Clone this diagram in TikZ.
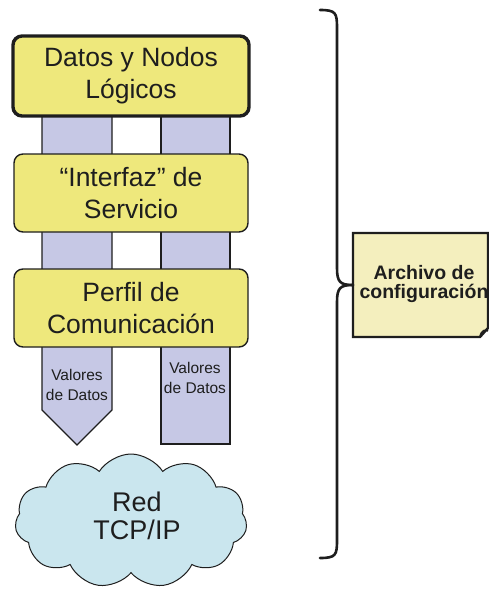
\documentclass[tikz,border=0pt]{standalone}
\usepackage{fontspec}
\setmainfont{Liberation Sans}
\usetikzlibrary{shapes.symbols}
\definecolor{boxyellow}{RGB}{238,232,124}
\definecolor{lavender}{RGB}{198,200,229}
\definecolor{skyblue}{RGB}{202,230,238}
\definecolor{notecream}{RGB}{244,239,190}
\definecolor{ink}{RGB}{30,30,30}
\tikzset{
  layerbox/.style={draw=ink, fill=boxyellow, rounded corners=9pt, line width=1.4pt,
    minimum width=234pt, minimum height=78pt, align=center, text=ink,
    font=\fontsize{26.5}{32}\selectfont, inner sep=0pt},
  column/.style={draw=ink, fill=lavender, line width=1.4pt},
  smalllabel/.style={align=center, text=ink, font=\fontsize{15.5}{20}\selectfont, inner sep=0pt},
  netcloud/.style={cloud, cloud puffs=11, cloud puff arc=115, aspect=1.7,
    draw=ink, fill=skyblue, line width=1pt, minimum width=232pt, minimum height=134pt},
  notebox/.style={draw=ink, fill=notecream, line width=2.4pt},
  bracepen/.style={draw=ink, line width=2.6pt, line cap=round, line join=round}
}
\begin{document}
\begin{tikzpicture}[x=1pt, y=-1pt]
\useasboundingbox (0,0) rectangle (488,592);

% data columns running behind the layer boxes
\draw[column] (42,100) -- (42,410) -- (77,445) -- (112,410) -- (112,100) -- cycle;
\draw[column] (161,100) rectangle (230,444);

% layer boxes
\node[layerbox, line width=3.4pt, minimum width=236pt, minimum height=80pt] (datos) at (131,76)
  {Datos y Nodos\\L\'ogicos};
\node[layerbox] (servicio) at (131,193) {\textquotedblleft Interfaz\textquotedblright{} de\\Servicio};
\node[layerbox] (perfil) at (131,308) {Perfil de\\Comunicaci\'on};

% column labels
\node[smalllabel] (valL) at (77,385) {Valores\\de Datos};
\node[smalllabel] (valR) at (195,378) {Valores\\de Datos};

% network cloud
\node[netcloud] (red) at (131,521) {};
\node[align=center, text=ink, font=\fontsize{27}{28}\selectfont, inner sep=0pt] (redtxt) at (137,516)
  {Red\\TCP/IP};

% configuration file note with curled corner
\path[notebox] (353,233) -- (488,233) -- (488,328) -- (480,337) -- (353,337) -- cycle;
\draw[ink, line width=1.6pt] (480,337) .. controls (481,330) and (486,329) .. (488,331);
\node[inner sep=0pt, align=center, text=ink, font=\bfseries\fontsize{19.5}{19}\selectfont] (cfg) at (424,284)
  {Archivo de\\configuraci\'on};
\coordinate (cfgL) at (353,285);

% brace grouping the stack
\draw[bracepen] (320,10) .. controls (336,10) and (337,13) .. (337,28) -- (337,268)
  .. controls (337,282) and (340,285) .. (cfgL);
\draw[bracepen] (cfgL) .. controls (340,285) and (337,288) .. (337,302) -- (337,540)
  .. controls (337,555) and (336,558) .. (320,558);
\end{tikzpicture}
\end{document}
